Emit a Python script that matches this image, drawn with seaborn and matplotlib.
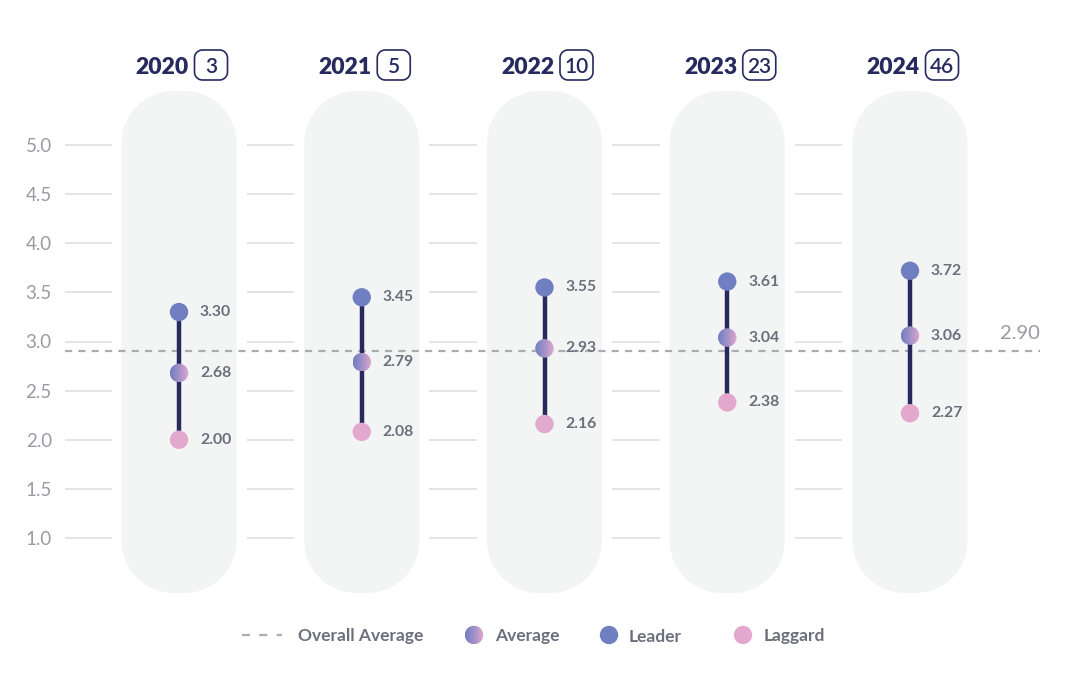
import numpy as np
import pandas as pd
import seaborn as sns
import matplotlib.pyplot as plt
from matplotlib.patches import FancyBboxPatch, Ellipse, Polygon
from matplotlib.colors import LinearSegmentedColormap
import matplotlib.transforms as mtransforms

# ---------------- data ----------------
years = ["2020", "2021", "2022", "2023", "2024"]
counts = [3, 5, 10, 23, 46]
leader = [3.30, 3.45, 3.55, 3.61, 3.72]
average = [2.68, 2.79, 2.93, 3.04, 3.06]
laggard = [2.00, 2.08, 2.16, 2.38, 2.27]
overall_avg = 2.90
y_ticks = [1.0, 1.5, 2.0, 2.5, 3.0, 3.5, 4.0, 4.5, 5.0]
legend_labels = ["Overall Average", "Average", "Leader", "Laggard"]

# ---------------- style ----------------
NAVY = "#262a5e"
LEADER_C = "#6f7fc1"
LAGGARD_C = "#e2a8cd"
PILL_C = "#f3f4f4"
GRID_C = "#dcdcdf"
DASH_C = "#acacb0"
LABEL_C = "#6e6e7c"
TICK_C = "#9a9aa5"

sns.set_theme(style="white")
plt.rcParams['font.family'] = ['Lato', 'DejaVu Sans']

W, H = 1066, 688
fig = plt.figure(figsize=(W / 100, H / 100), dpi=100)
AX_L = 65
ax = fig.add_axes([AX_L / W, 0, 1 - AX_L / W, 1])

X0, DX = 179.0, 182.75   # pixel of first column, pixels per column
Y5, DY = 145.0, 98.25    # pixel of y=5.0, pixels per unit


def px2x(px):
    return (px - X0) / DX


def py2y(py):
    return 5 - (py - Y5) / DY


ax.set_xlim(px2x(AX_L), px2x(W))
ax.set_ylim(py2y(H), py2y(0))
for s in ax.spines.values():
    s.set_visible(False)
ax.set_xticks([])
ax.set_yticks(y_ticks)
ax.set_yticklabels([f"{t:.1f}" for t in y_ticks])
ax.tick_params(axis="y", length=0, pad=9.5, labelsize=13.5, labelcolor=TICK_C)
for lbl in ax.get_yticklabels():
    lbl.set_fontweight("normal")

xs = np.arange(len(years))


def rounded_rect(cx, cy, w_px, h_px, r_px, **kw):
    """Rounded rectangle centred at data (cx, cy), sizes in pixels."""
    hwx, hhy = w_px / 2 / DX, h_px / 2 / DY
    rx, ry = r_px / DX, r_px / DY
    pts = []
    corners = [(cx + hwx - rx, cy + hhy - ry, 0), (cx - hwx + rx, cy + hhy - ry, 90),
               (cx - hwx + rx, cy - hhy + ry, 180), (cx + hwx - rx, cy - hhy + ry, 270)]
    for ccx, ccy, a0 in corners:
        t = np.radians(np.linspace(a0, a0 + 90, 20))
        pts += list(zip(ccx + rx * np.cos(t), ccy + ry * np.sin(t)))
    poly = Polygon(pts, closed=True, **kw)
    ax.add_patch(poly)
    return poly


# pills
hw = 57.5 / DX
for x in xs:
    rounded_rect(x, (py2y(91) + py2y(593)) / 2, 115, 502, 52,
                 facecolor=PILL_C, edgecolor="none", zorder=0)

# grid segments between pills
gap = hw + 10 / DX
seg_starts = [px2x(AX_L)] + [x + gap for x in xs[:-1]]
seg_ends = [xs[0] - gap] + [x + 1 - gap for x in xs[:-1]]
for t in y_ticks:
    ax.hlines([t] * len(seg_starts), seg_starts, seg_ends, color=GRID_C,
              lw=1.1, zorder=1)

# overall average dashed line
ax.plot([px2x(AX_L), px2x(1040)], [overall_avg, overall_avg], color=DASH_C,
        lw=1.6, linestyle=(0, (3.2, 2.8)), zorder=2)
ax.text(px2x(1040), overall_avg, f"{overall_avg:.2f}",
        transform=mtransforms.offset_copy(ax.transData, fig=fig, x=0, y=9, units="dots"),
        ha="right", va="bottom", fontsize=14.5, color=TICK_C)

# connectors
ax.vlines(xs, laggard, leader, color=NAVY, lw=3.2, zorder=3)

# leader / laggard dots through seaborn
df = pd.DataFrame({"x": np.concatenate([xs, xs]),
                   "value": leader + laggard,
                   "role": ["Leader"] * len(xs) + ["Laggard"] * len(xs)})
sns.scatterplot(data=df, x="x", y="value", hue="role",
                palette={"Leader": LEADER_C, "Laggard": LAGGARD_C},
                s=175, edgecolor="none", linewidth=0, legend=False, zorder=4, ax=ax)
ax.set_xlabel("")
ax.set_ylabel("")

# gradient average dots
grad_cmap = LinearSegmentedColormap.from_list("g", [LEADER_C, "#a391c8", LAGGARD_C])
grad = np.linspace(0, 1, 64).reshape(1, -1)
dw, dh = 18.5 / DX, 18.5 / DY


def grad_dot(x, y):
    im = ax.imshow(grad, cmap=grad_cmap, extent=[x - dw / 2, x + dw / 2, y - dh / 2, y + dh / 2],
                   aspect="auto", zorder=4, interpolation="bilinear")
    e = Ellipse((x, y), dw, dh, transform=ax.transData, facecolor="none", edgecolor="none")
    ax.add_patch(e)
    im.set_clip_path(e)


for x, v in zip(xs, average):
    grad_dot(x, v)

# value labels
lab_tr = mtransforms.offset_copy(ax.transData, fig=fig, x=21, y=0, units="dots")
for x, a, b, c in zip(xs, leader, average, laggard):
    for v in (a, b, c):
        ax.text(x, v, f"{v:.2f}", transform=lab_tr, ha="left", va="center",
                fontsize=11.3, fontweight="bold", color=LABEL_C, zorder=5)

# headers
yh = py2y(65)
yr_tr = mtransforms.offset_copy(ax.transData, fig=fig, x=10, y=0, units="dots")
for x, yr, n in zip(xs, years, counts):
    ax.text(x, yh, yr, transform=yr_tr, ha="right", va="center_baseline",
            fontsize=16.5, fontweight="heavy", color=NAVY)
    bx = x + 32 / DX
    rounded_rect(bx, yh, 33, 30, 8, facecolor="white", edgecolor=NAVY,
                 lw=1.2, zorder=3)
    ax.text(bx, yh, str(n), ha="center", va="center_baseline", fontsize=15,
            fontweight="semibold", color=NAVY, zorder=4)

# legend (manual, bottom)
ly = py2y(635)
ax.plot([px2x(242), px2x(282)], [ly, ly], color=DASH_C, lw=1.6,
        linestyle=(0, (3.6, 4.2)), zorder=2)
grad_dot(px2x(474), ly)
sns.scatterplot(x=[px2x(609)], y=[ly], color=LEADER_C, s=175, edgecolor="none",
                linewidth=0, legend=False, zorder=4, ax=ax)
sns.scatterplot(x=[px2x(743)], y=[ly], color=LAGGARD_C, s=175, edgecolor="none",
                linewidth=0, legend=False, zorder=4, ax=ax)
ax.set_xlabel("")
ax.set_ylabel("")
for txt, px in zip(legend_labels, [298, 495, 629, 764]):
    ax.text(px2x(px), ly, txt, ha="left", va="center_baseline", fontsize=12.5,
            fontweight="bold", color=LABEL_C)

ax.set_xlim(px2x(AX_L), px2x(W))
ax.set_ylim(py2y(H), py2y(0))
fig.savefig("out.png", dpi=100, facecolor="white")
